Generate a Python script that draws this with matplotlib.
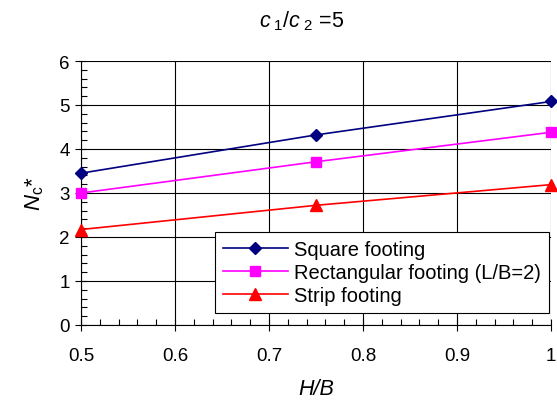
import matplotlib.pyplot as plt
from matplotlib.ticker import MultipleLocator

plt.rcParams['font.family'] = ['Liberation Sans', 'DejaVu Sans']
plt.rcParams['mathtext.fontset'] = 'custom'
plt.rcParams['mathtext.it'] = 'Liberation Sans:italic'
plt.rcParams['mathtext.rm'] = 'Liberation Sans'

# data
h_b = [0.5, 0.75, 1.0]
square = [3.45, 4.32, 5.08]
rect = [3.0, 3.71, 4.38]
strip = [2.17, 2.72, 3.19]
x_labels = ['0.5', '0.6', '0.7', '0.8', '0.9', '1']

fig = plt.figure(figsize=(5.57, 4.06), dpi=100)
ax = fig.add_axes([81/557, 80/406, 470/557, 264/406])

ax.plot(h_b, square, color='#000080', marker='D', markersize=6, lw=1.2, label='Square footing', clip_on=False, zorder=3)
ax.plot(h_b, rect, color='#FF00FF', marker='s', markersize=7, lw=1.2, label='Rectangular footing (L/B=2)', clip_on=False, zorder=3)
ax.plot(h_b, strip, color='#FF0000', marker='^', markersize=8, lw=1.2, label='Strip footing', clip_on=False, zorder=3)

ax.set_xlim(0.5, 1.0)
ax.set_ylim(0, 6)
ax.xaxis.set_minor_locator(MultipleLocator(0.02))
ax.yaxis.set_major_locator(MultipleLocator(1))
ax.yaxis.set_minor_locator(MultipleLocator(0.2))
ax.set_xticks([0.5, 0.6, 0.7, 0.8, 0.9, 1.0])
ax.set_xticklabels(x_labels)
ax.grid(True, which='major', color='black', lw=0.8)
ax.tick_params(which='major', direction='inout', length=8, width=0.8, labelsize=13.5, pad=12)
ax.tick_params(axis='y', which='major', pad=4)
ax.tick_params(which='minor', direction='in', length=4, width=0.8)
for s in ['top', 'right']:
    ax.spines[s].set_visible(False)

ax.set_xlabel('H/B', fontsize=15.5, style='italic', labelpad=10)
ax.set_ylabel(r'$N_{\mathrm{c}}$*', fontsize=16, labelpad=10)
fig.text(302/557, 1 - 21/406, r'$c_{\ \mathit{1}}/c_{\ \mathit{2}}$ =5', fontsize=15.5,
         ha='center', va='center')

leg = ax.legend(loc='lower right', bbox_to_anchor=(0.995, 0.045), fontsize=14.5, frameon=True,
                fancybox=False, edgecolor='black', framealpha=1, borderpad=0.4,
                handlelength=3.2, handletextpad=0.3, labelspacing=0.2, borderaxespad=0)
leg.get_frame().set_linewidth(0.8)

fig.savefig('out.png', dpi=100)
